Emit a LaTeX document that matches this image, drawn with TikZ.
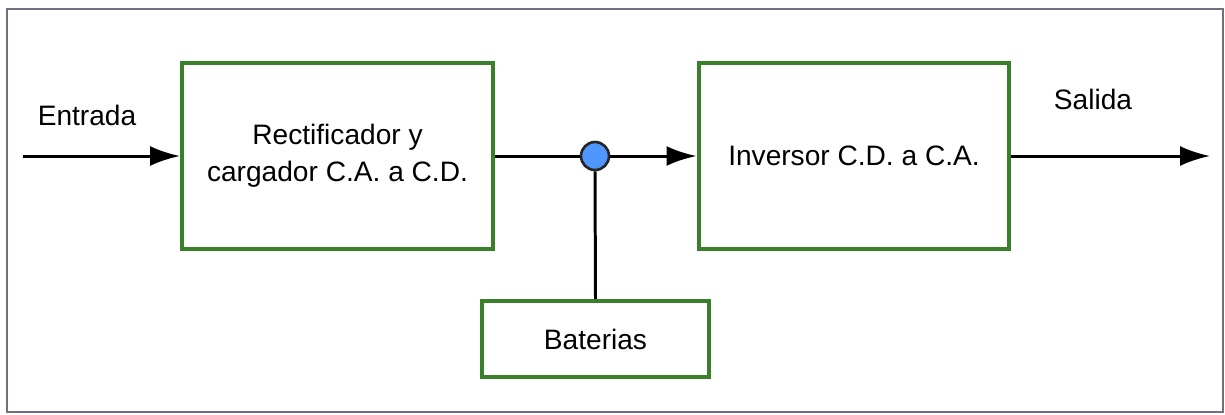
\documentclass[tikz,border=0pt]{standalone}
\usepackage{fontspec}
\setmainfont{Liberation Sans}
\usetikzlibrary{arrows.meta}
\definecolor{boxgreen}{RGB}{58,128,42}
\definecolor{framegray}{RGB}{118,110,128}
\definecolor{nodeblue}{RGB}{80,150,255}
\begin{document}
\begin{tikzpicture}[x=0.02cm, y=-0.02cm,
        font=\fontsize{16}{21}\selectfont,
        bloque/.style={draw=boxgreen, line width=2.3pt, fill=white, align=center,
            minimum width=6.22cm, minimum height=3.72cm, inner sep=0pt},
        flecha/.style={line width=1.7pt, -{Latex[length=0.6cm, width=0.4cm]}},
        linea/.style={line width=1.7pt}]
    \useasboundingbox (0,0) rectangle (1225,414);
    \draw[framegray, line width=1.4pt] (7,9) rectangle (1223,412);
    \node[bloque] (rect) at (337.5,156) {Rectificador y\\cargador C.A. a C.D.};
    \node[bloque] (inv) at (854,156) {Inversor C.D. a C.A.};
    \node[bloque, minimum width=4.54cm, minimum height=1.52cm] (bat) at (595.5,339) {Baterias};
    \node[circle, draw=black!85, line width=1.5pt, fill=nodeblue, minimum size=0.56cm, inner sep=0pt] (nodo) at (595,156) {};
    \coordinate (ent) at (23,156);
    \coordinate (sal) at (1210,156);
    \draw[flecha] (ent) -- (rect.west);
    \draw[linea] (rect.east) -- (nodo.west);
    \draw[flecha] (nodo.east) -- (inv.west);
    \draw[linea] (nodo.south) -- (bat.north);
    \draw[flecha] (inv.east) -- (sal);
    \node[anchor=base] (lent) at (87,125) {Entrada};
    \node[anchor=base] (lsal) at (1093,109) {Salida};
\end{tikzpicture}
\end{document}
